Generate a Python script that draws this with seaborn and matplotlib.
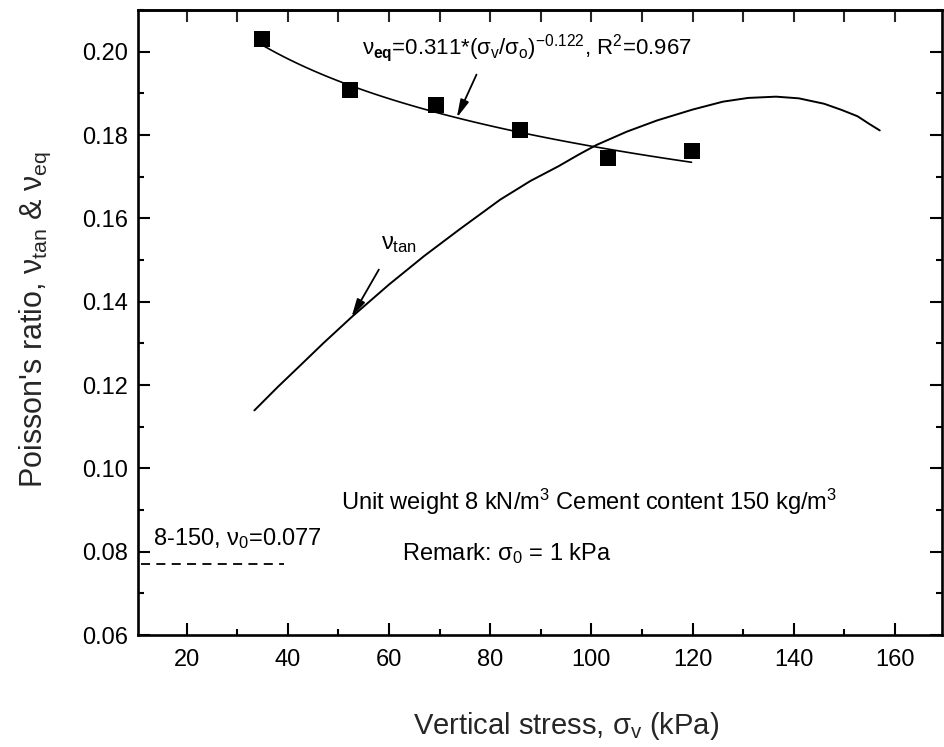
import numpy as np
import pandas as pd
import matplotlib
matplotlib.use("Agg")
import matplotlib.pyplot as plt
import seaborn as sns
from matplotlib.ticker import MultipleLocator, FormatStrFormatter

# Measured equivalent Poisson's ratio (squares)
stress_eq = [35.0, 52.3, 69.2, 85.8, 103.2, 119.8]
nu_eq = [0.2031, 0.1908, 0.1871, 0.1813, 0.1744, 0.1761]

# Power-law fit of nu_eq: nu = a * (sigma_v / sigma_0) ** b
fit_a = 0.311
fit_b = -0.122
fit_r2 = 0.967
sigma_0 = 1.0

# Tangent Poisson's ratio curve
stress_tan = [33.4, 38.0, 42.3, 47.0, 52.8, 60.0, 67.0, 74.0, 82.0, 88.0,
              93.5, 97.5, 101.0, 107.0, 113.0, 120.0, 126.0, 131.0, 136.5,
              141.0, 146.0, 149.5, 152.6, 155.0, 157.0]
nu_tan = [0.1139, 0.1195, 0.1245, 0.1300, 0.1365, 0.1441, 0.1510, 0.1574,
          0.1645, 0.1690, 0.1725, 0.1753, 0.1776, 0.1808, 0.1835, 0.1861,
          0.1880, 0.1889, 0.1892, 0.1888, 0.1875, 0.1860, 0.1845, 0.1826,
          0.1811]

# Initial Poisson's ratio reference level
nu_0 = 0.077
nu_0_span = [11.0, 39.3]

sns.set_theme(style="ticks")
plt.rcParams["font.family"] = ["Liberation Sans", "DejaVu Sans"]
plt.rcParams["mathtext.fontset"] = "custom"
plt.rcParams["mathtext.rm"] = "Liberation Sans"
plt.rcParams["mathtext.it"] = "Liberation Sans"
plt.rcParams["mathtext.bf"] = "Liberation Sans:bold"

fig = plt.figure(figsize=(9.45, 7.47), dpi=100)
ax = fig.add_axes([138 / 945, 1 - 635 / 747, 804 / 945, 625 / 747])

# Fitted power law drawn between first and last measured stresses
fit_x = np.linspace(stress_eq[0], stress_eq[-1], 120)
fit_df = pd.DataFrame({"stress": fit_x,
                       "nu": fit_a * (fit_x / sigma_0) ** fit_b})
sns.lineplot(data=fit_df, x="stress", y="nu", ax=ax, color="black", lw=1.2)

tan_df = pd.DataFrame({"stress": stress_tan, "nu": nu_tan})
sns.lineplot(data=tan_df, x="stress", y="nu", ax=ax, color="black", lw=1.4,
             sort=False)

eq_df = pd.DataFrame({"stress": stress_eq, "nu": nu_eq})
sns.scatterplot(data=eq_df, x="stress", y="nu", ax=ax, marker="s", s=120,
                color="black", edgecolor="black", linewidth=0, zorder=5)

ax.plot(nu_0_span, [nu_0, nu_0], color="black", lw=1.3, ls=(0, (5, 3.5)))

ax.set_xlim(10.4, 169.3)
ax.set_ylim(0.06, 0.21)
ax.xaxis.set_major_locator(MultipleLocator(20))
ax.xaxis.set_minor_locator(MultipleLocator(10))
ax.yaxis.set_major_locator(MultipleLocator(0.02))
ax.yaxis.set_minor_locator(MultipleLocator(0.01))
ax.xaxis.set_major_formatter(FormatStrFormatter("%d"))
ax.yaxis.set_major_formatter(FormatStrFormatter("%.2f"))

for sp in ax.spines.values():
    sp.set_linewidth(1.9)
    sp.set_color("black")
    sp.set_visible(True)

ax.tick_params(which="both", direction="in", width=1.5, colors="black",
               left=True, bottom=True, right=True, top=False)
ax.tick_params(which="major", length=8.6, labelsize=17, pad=10)
ax.tick_params(which="minor", length=4.5)
ax.tick_params(axis="y", which="major", pad=7)

# Top axis: uniform ticks every 10 kPa, no labels
top = ax.secondary_xaxis("top")
top.set_xticks(np.arange(20, 170, 10))
top.tick_params(direction="in", length=8.6, width=1.5, labeltop=False)
top.spines["top"].set_linewidth(1.9)

ax.set_xlabel(r"Vertical stress, $\sigma_{\mathrm{v}}$ (kPa)", fontsize=21)
ax.set_ylabel(r"Poisson's ratio, $\nu_{\mathrm{tan}}$ & $\nu_{\mathrm{eq}}$",
              fontsize=22)
ax.xaxis.set_label_coords(0.532, -0.12)
ax.yaxis.set_label_coords(-0.106, 0.505)

txt = dict(color="black", ha="left", va="baseline", fontsize=17)
ax.text(54.7, 0.1994,
        r"$\nu_{\mathbf{eq}}$=0.311*($\sigma_{\mathrm{v}}$/$\sigma_{\mathrm{o}}$)$^{-0.122}$, R$^{2}$=0.967",
        **{**txt, "fontsize": 16})
ax.text(58.4, 0.1525, r"$\nu_{\mathrm{tan}}$", **txt)
ax.text(50.5, 0.0900,
        r"Unit weight 8 kN/m$^{3}$ Cement content 150 kg/m$^{3}$", **txt)
ax.text(62.6, 0.0780, r"Remark: $\sigma_{0}$ = 1 kPa", **txt)
ax.text(13.3, 0.0816, r"8-150, $\nu_{0}$=0.077", **txt)

arrow = dict(arrowstyle="-|>,head_length=0.9,head_width=0.22", lw=1.3,
             color="black", shrinkA=0, shrinkB=0)
tip_x = 73.4
ax.annotate("", xy=(tip_x, fit_a * (tip_x / sigma_0) ** fit_b),
            xytext=(77.3, 0.1945), arrowprops=arrow)
ax.annotate("", xy=(52.6, 0.1363), xytext=(58.0, 0.1477), arrowprops=arrow)

fig.savefig("out.png", dpi=100, facecolor="white")
